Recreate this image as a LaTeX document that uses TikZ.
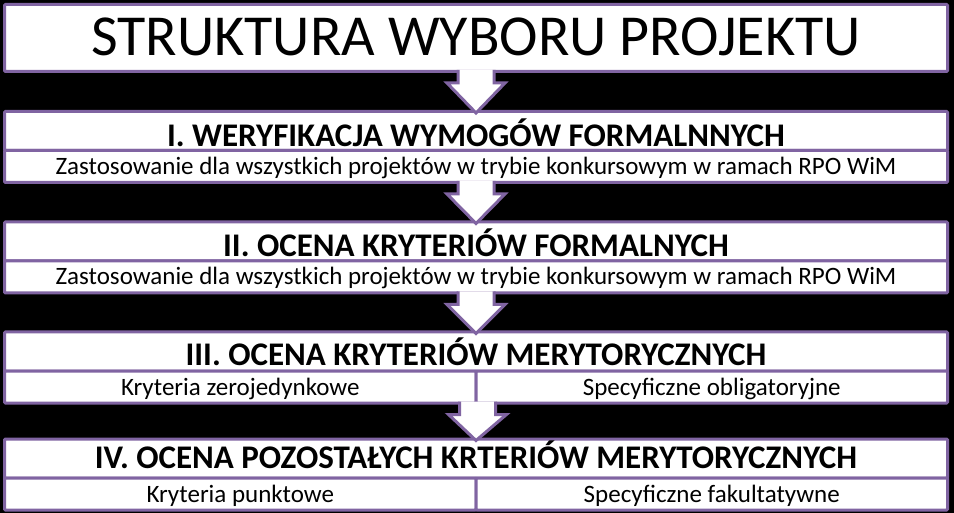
\documentclass[tikz,border=0pt]{standalone}
\usepackage{fontspec}
\setmainfont{Carlito}
\usetikzlibrary{calc}
\definecolor{rowpurple}{RGB}{128,100,162}
\tikzset{
rowbox/.style={draw=rowpurple, line width=3pt, fill=white, rounded corners=1pt, inner sep=0pt, minimum width=943pt},
headrow/.style={rowbox, font=\bfseries\fontsize{33}{33}\selectfont, text height=35pt, text depth=4pt},
subrow/.style={rowbox, font=\fontsize{25}{25}\selectfont, minimum height=32pt, text height=16pt, text depth=0pt},
halfrow/.style={subrow, minimum width=471.5pt},
blockarrow/.style={draw=rowpurple, line width=3pt, fill=white, line join=miter}
}
\begin{document}
\begin{tikzpicture}[x=1pt,y=-1pt]
\fill[black] (0,0) rectangle (954,513);
\useasboundingbox (0,0) rectangle (954,513);
% title
\node[rowbox, minimum height=67pt, font=\fontsize{58}{58}\selectfont, text height=37pt, text depth=2pt] (t) at (476,38) {STRUKTURA WYBORU PROJEKTU};
% I
\node[headrow, text height=35.5pt, text depth=3.5pt] (h1) at (476,131) {I. WERYFIKACJA WYMOGÓW FORMALNNYCH};
\node[subrow] (s1) at (476,166.5) {Zastosowanie dla wszystkich projektów w trybie konkursowym w ramach RPO WiM};
% II
\node[headrow] (h2) at (476,241.5) {II. OCENA KRYTERIÓW FORMALNYCH};
\node[subrow] (s2) at (476,277) {Zastosowanie dla wszystkich projektów w trybie konkursowym w ramach RPO WiM};
% III
\node[headrow, text height=34pt, text depth=5pt] (h3) at (476,351.5) {III. OCENA KRYTERIÓW MERYTORYCZNYCH};
\node[halfrow] (s3a) at (240.25,387) {Kryteria zerojedynkowe};
\node[halfrow] (s3b) at (711.75,387) {Specyficzne obligatoryjne};
% IV
\node[headrow, text height=29pt, text depth=10pt] (h4) at (476,458.5) {IV. OCENA POZOSTAŁYCH KRTERIÓW MERYTORYCZNYCH};
\node[halfrow] (s4a) at (240.25,494) {Kryteria punktowe};
\node[halfrow] (s4b) at (711.75,494) {Specyficzne fakultatywne};
% arrows
\foreach \a/\b in {t.south/h1, s1.south/h2, s2.south/h3, s3a.south east/h4} {
\draw[blockarrow] ($(\a)+(-18,-3)$) -- ($(\a)+(-18,10)$) -- ($(\a)+(-29,10)$)
  -- ($(\b.north)+(0,3)$) -- ($(\a)+(29,10)$) -- ($(\a)+(18,10)$) -- ($(\a)+(18,-3)$);
}
\end{tikzpicture}
\end{document}
